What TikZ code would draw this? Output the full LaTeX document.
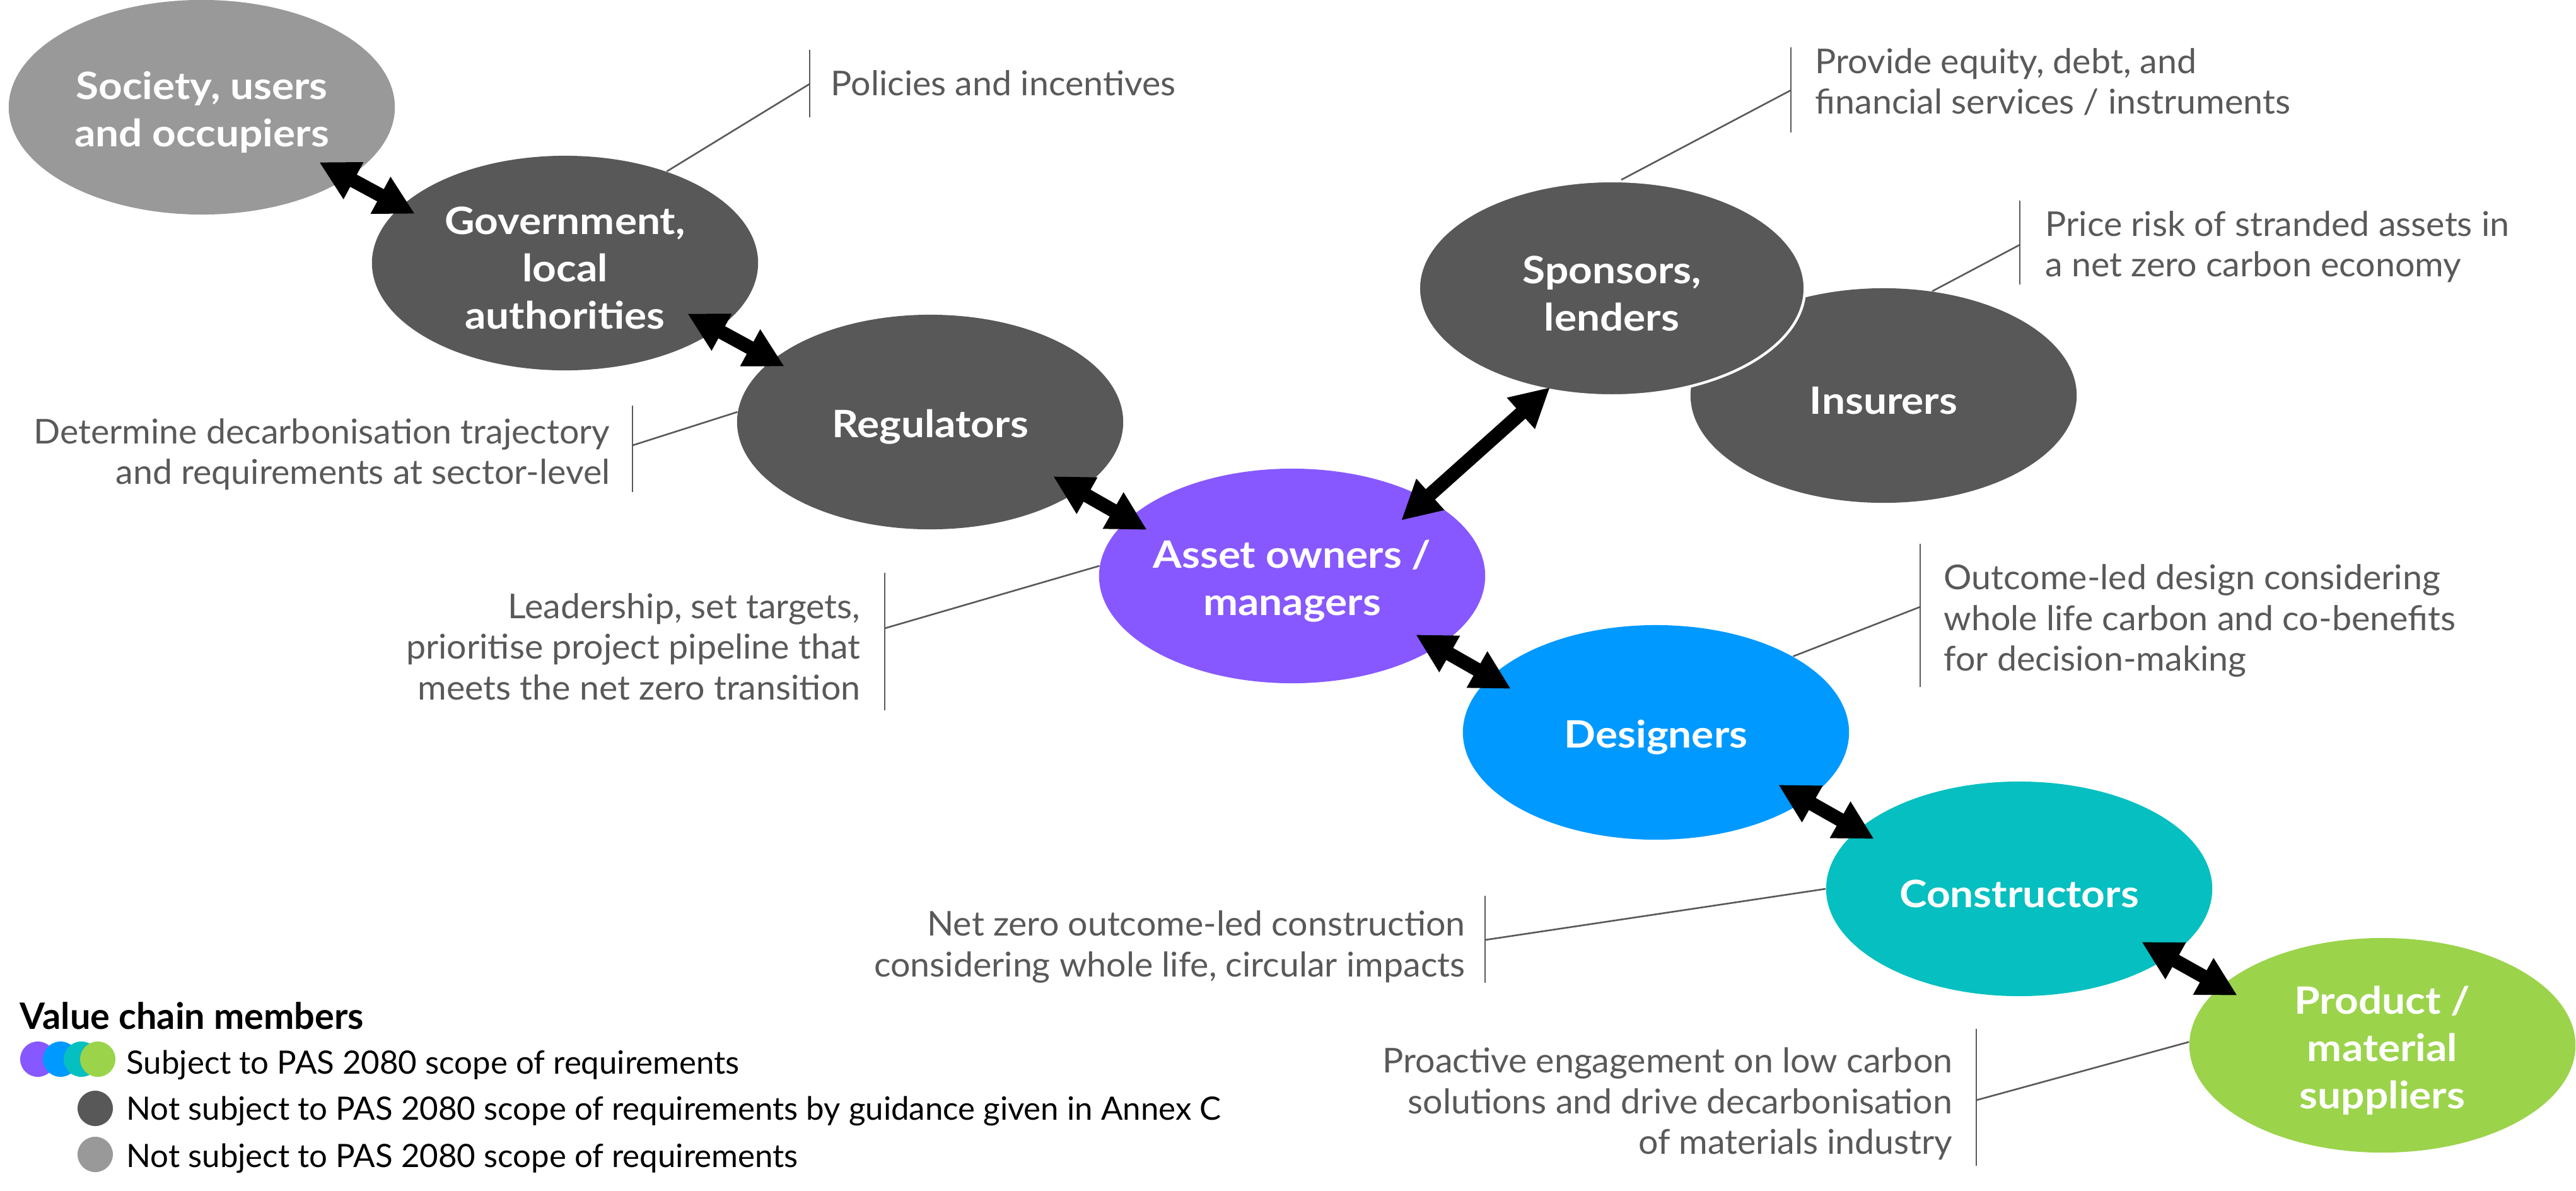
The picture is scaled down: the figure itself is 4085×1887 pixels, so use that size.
\documentclass[tikz,border=0pt]{standalone}
\usepackage{fontspec}
\setmainfont{Lato}
\newfontfamily\lblfont{Lato}[FakeStretch=1.1]
\newfontfamily\notefont{Lato}[FakeStretch=1.025]
\usetikzlibrary{shapes.geometric,arrows.meta}
\definecolor{cSoc}{HTML}{999999}
\definecolor{cDark}{HTML}{585858}
\definecolor{cPurple}{HTML}{8758FF}
\definecolor{cBlue}{HTML}{0099FF}
\definecolor{cTeal}{HTML}{05BFC0}
\definecolor{cGreen}{HTML}{9BD34B}
\definecolor{cText}{HTML}{595959}
\begin{document}
\begin{tikzpicture}[x=0.01cm,y=-0.01cm,
  member/.style={ellipse,fill=#1,minimum width=6.12cm,minimum height=3.4cm,inner sep=0pt},
  lbl/.style={text=white,font=\lblfont\bfseries\fontsize{17}{21.3}\selectfont,align=center,inner sep=0pt,yshift=-2.3pt},
  note/.style={text=cText,font=\notefont\fontsize{15.4}{18.3}\selectfont,inner sep=0pt},
  notel/.style={note,anchor=west,align=left},
  noter/.style={note,anchor=east,align=right},
  bar/.style={draw=cText,line width=0.75pt},
  leader/.style={draw=cText,line width=0.75pt},
  link/.style={line width=2.2mm,{Triangle[length=6.2mm,width=6.2mm]}-{Triangle[length=6.2mm,width=6.2mm]}},
  dot/.style={circle,fill=#1,minimum size=0.56cm,inner sep=0pt},
  legend/.style={font=\fontsize{14.5}{17.5}\selectfont,inner sep=0pt,anchor=base west}]
\useasboundingbox (0,0) rectangle (4085,1887);

% value chain members
\node[member=cSoc, label={[lbl]center:{Society, users\\and occupiers}}] (soc) at (320,170) {};
\node[member=cDark, label={[lbl]center:{Government,\\local\\authorities}}] (gov) at (896,417) {};
\node[member=cDark, label={[lbl]center:Regulators}] (reg) at (1475,669) {};
\node[member=cPurple, label={[lbl]center:{Asset owners /\\managers}}] (ast) at (2049,913) {};
\node[member=cDark, label={[lbl]center:Insurers}] (ins) at (2987,627) {};
\node[member=cDark, draw=white, line width=1.2pt, label={[lbl]center:{Sponsors,\\lenders}}] (spo) at (2556,457) {};
\node[member=cBlue, label={[lbl]center:Designers}] (des) at (2626,1161) {};
\node[member=cTeal, label={[lbl]center:Constructors}] (con) at (3202,1409) {};
\node[member=cGreen, label={[lbl]center:{Product /\\material\\suppliers}}] (pro) at (3778,1657) {};

% callouts
\coordinate (b1t) at (1284,79);  \coordinate (b1b) at (1284,186);  \coordinate (b1m) at (1284,133);
\coordinate (b2t) at (2840,75);  \coordinate (b2b) at (2840,210);  \coordinate (b2m) at (2840,143);
\coordinate (b3t) at (3203,318); \coordinate (b3b) at (3203,451);  \coordinate (b3m) at (3203,388);
\coordinate (b4t) at (1003,643); \coordinate (b4b) at (1003,780);  \coordinate (b4m) at (1003,706);
\coordinate (b5t) at (1403,908); \coordinate (b5b) at (1403,1126); \coordinate (b5m) at (1403,996);
\coordinate (b6t) at (3045,862); \coordinate (b6b) at (3045,1089); \coordinate (b6m) at (3045,962);
\coordinate (b7t) at (2355,1420); \coordinate (b7b) at (2355,1558); \coordinate (b7m) at (2355,1490);
\coordinate (b8t) at (3134,1631); \coordinate (b8b) at (3134,1848); \coordinate (b8m) at (3134,1744);

\foreach \i in {1,...,8} {\draw[bar] (b\i t) -- (b\i b);}
\draw[leader] (gov.42) -- (b1m);
\draw[leader] (spo.85) -- (b2m);
\draw[leader] (ins.65) -- (b3m);
\draw[leader] (reg.177) -- (b4m);
\draw[leader] (ast.177) -- (b5m);
\draw[leader] (des.29) -- (b6m);
\draw[leader] (con.180) -- (b7m);
\draw[leader] (pro.179) -- (b8m);

\node[notel] (n1) at (1317,132) {Policies and incentives};
\node[notel] (n2) at (2878,130) {Provide equity, debt, and\\financial services / instruments};
\node[notel] (n3) at (3243,391) {Price risk of stranded assets in\\a net zero carbon economy};
\node[noter] (n4) at (968,720) {Determine decarbonisation trajectory\\and requirements at sector-level};
\node[noter] (n5) at (1365,1025) {Leadership, set targets,\\prioritise project pipeline that\\meets the net zero transition};
\node[notel] (n6) at (3082,984) {Outcome-led design considering\\whole life carbon and co-benefits\\for decision-making};
\node[noter] (n7) at (2324,1501) {Net zero outcome-led construction\\considering whole life, circular impacts};
\node[noter] (n8) at (3097,1750) {Proactive engagement on low carbon\\solutions and drive decarbonisation\\of materials industry};

% links
\draw[link] ([shift={(186,87)}]soc.center) -- ([shift={(-238,-78)}]gov.center);
\draw[link] ([shift={(194,80)}]gov.center) -- ([shift={(-231,-88)}]reg.center);
\draw[link] ([shift={(195,86)}]reg.center) -- ([shift={(-230,-73)}]ast.center);
\draw[link] ([shift={(173,-88)}]ast.center) -- ([shift={(-98,157)}]spo.center);
\draw[link] ([shift={(196,93)}]ast.center) -- ([shift={(-230,-69)}]des.center);
\draw[link] ([shift={(194,83)}]des.center) -- ([shift={(-230,-79)}]con.center);
\draw[link] ([shift={(194,84)}]con.center) -- ([shift={(-230,-79)}]pro.center);

% legend
\node[legend, font=\fontsize{16.4}{20}\selectfont\bfseries] (lt) at (31,1631) {Value chain members};
\node[dot=cPurple] (d1) at (60,1679) {};
\node[dot=cBlue] (d2) at (96,1679) {};
\node[dot=cTeal] (d3) at (129,1679) {};
\node[dot=cGreen] (d4) at (155,1679) {};
\node[dot=cDark] (d5) at (151,1757) {};
\node[dot=cSoc] (d6) at (151,1830) {};
\node[legend] (l1) at (200,1702) {Subject to PAS 2080 scope of requirements};
\node[legend] (l2) at (200,1775) {Not subject to PAS 2080 scope of requirements by guidance given in Annex C};
\node[legend] (l3) at (200,1850) {Not subject to PAS 2080 scope of requirements};
\end{tikzpicture}
\end{document}
